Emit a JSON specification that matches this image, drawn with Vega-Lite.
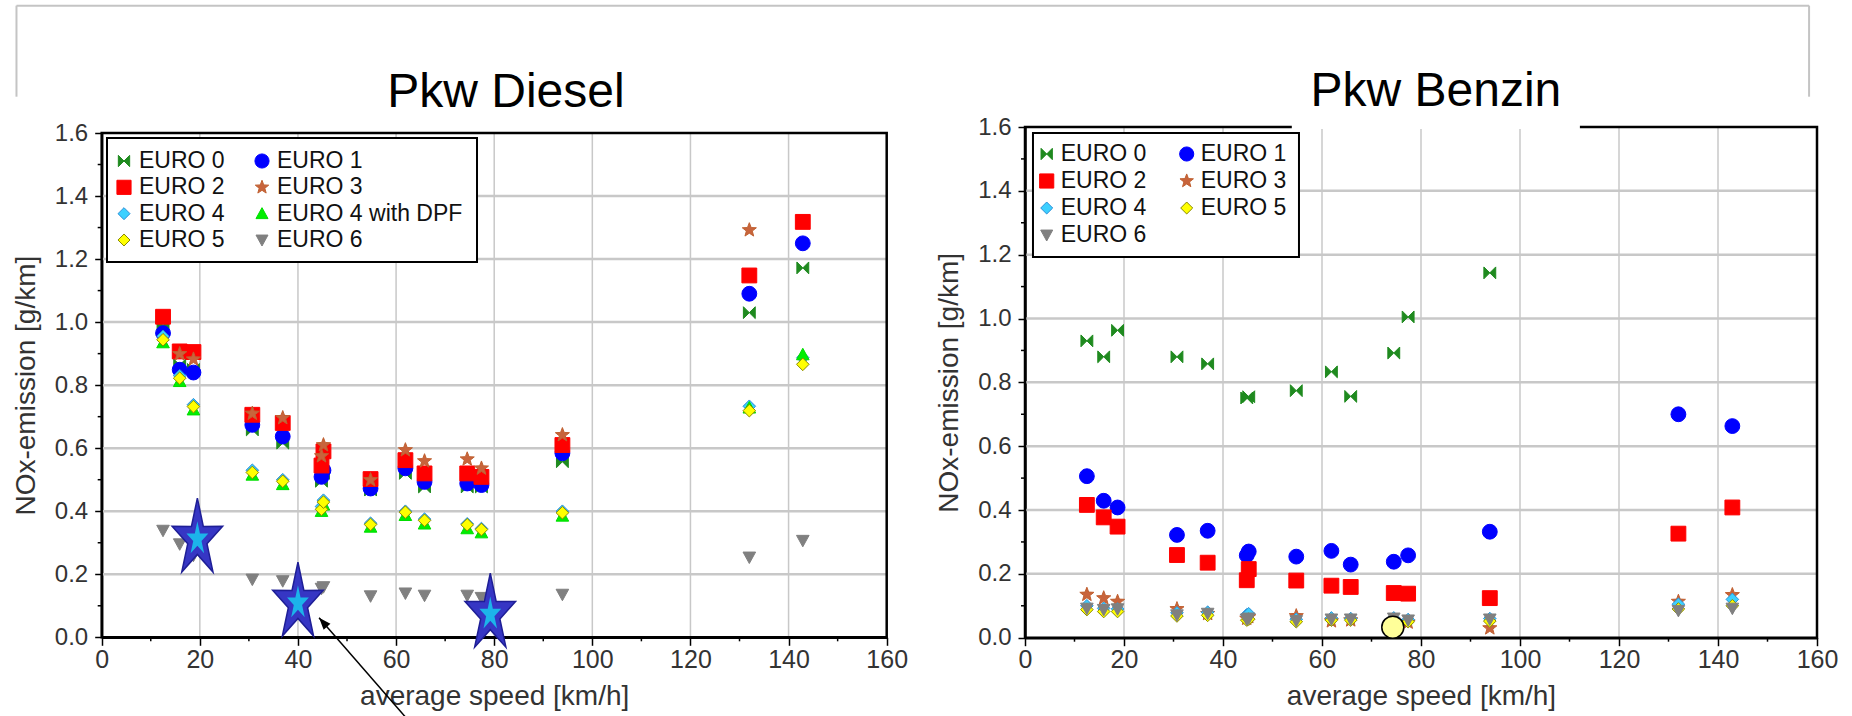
{
"$schema": "https://vega.github.io/schema/vega-lite/v6.json",
"width": 1852,
"height": 716,
"autosize": {"type": "none"},
"padding": 0,
"background": "white",
"config": {
  "font": "Liberation Sans",
  "view": {"stroke": null},
  "axis": {"labelFont": "Liberation Sans", "labelColor": "#333333", "titleFont": "Liberation Sans", "titleFontWeight": "normal", "titleColor": "#333333", "titleFontSize": 28, "tickColor": "black", "tickWidth": 1.5, "domainColor": "black", "domainWidth": 2.5, "labelFlush": false, "labelOverlap": false, "grid": false}
},
"resolve": {"scale": {"x": "independent", "y": "independent", "shape": "independent", "fill": "independent", "stroke": "independent"}, "axis": {"x": "independent", "y": "independent"}},
"layer": [
 {
  "resolve": {"scale": {"x": "independent", "y": "independent", "shape": "independent", "fill": "independent", "stroke": "independent"}, "axis": {"x": "independent", "y": "independent"}},
  "layer": [
   {
    "layer": [
     {"data": {"values": [{"speed":20},{"speed":40},{"speed":60},{"speed":80},{"speed":100},{"speed":120},{"speed":140}]},
      "mark": {"type": "rule", "color": "#c8c8c8", "strokeWidth": 1.5},
      "encoding": {"x": {"field": "speed", "type": "quantitative", "title": "average speed [km/h]"}, "y": {"datum": 0, "type": "quantitative", "title": "NOx-emission [g/km]"}, "y2": {"datum": 1.6}}},
     {"data": {"values": [{"nox":0.2},{"nox":0.4},{"nox":0.6},{"nox":0.8},{"nox":1.0},{"nox":1.2},{"nox":1.4}]},
      "mark": {"type": "rule", "color": "#c8c8c8", "strokeWidth": 2.5},
      "encoding": {"y": {"field": "nox", "type": "quantitative", "title": "NOx-emission [g/km]"}, "x": {"datum": 0, "type": "quantitative", "title": "average speed [km/h]"}, "x2": {"datum": 160}}},
     {"data": {"values": [{}]},
      "mark": {"type": "rule", "color": "#c4c4c4", "strokeWidth": 2},
      "encoding": {"x": {"datum": -17.37, "type": "quantitative", "title": "average speed [km/h]"}, "x2": {"datum": 348.0}, "y": {"datum": 2.0041, "type": "quantitative", "title": "NOx-emission [g/km]"}}},
     {"data": {"values": [{}]},
      "mark": {"type": "rule", "color": "#c4c4c4", "strokeWidth": 2},
      "encoding": {"x": {"datum": -17.37, "type": "quantitative", "title": "average speed [km/h]"}, "y": {"datum": 2.0041, "type": "quantitative", "title": "NOx-emission [g/km]"}, "y2": {"datum": 1.7152}}},
     {"data": {"values": [{}]},
      "mark": {"type": "rule", "color": "#c4c4c4", "strokeWidth": 2},
      "encoding": {"x": {"datum": 348.0, "type": "quantitative", "title": "average speed [km/h]"}, "y": {"datum": 2.0041, "type": "quantitative", "title": "NOx-emission [g/km]"}, "y2": {"datum": 1.7152}}},
     {"data": {"values": [{}]},
      "mark": {"type": "rect", "fillOpacity": 0, "stroke": "black", "strokeWidth": 2.5},
      "encoding": {"x": {"datum": 0, "type": "quantitative", "title": "average speed [km/h]"}, "x2": {"datum": 160}, "y": {"datum": 0, "type": "quantitative", "title": "NOx-emission [g/km]"}, "y2": {"datum": 1.6}}},
     {"data": {"values": [
        {"speed":12.5,"euro":"EURO 0","nox":0.99},{"speed":15.9,"euro":"EURO 0","nox":0.864},{"speed":18.7,"euro":"EURO 0","nox":0.85},{"speed":30.7,"euro":"EURO 0","nox":0.658},{"speed":36.9,"euro":"EURO 0","nox":0.616},{"speed":44.8,"euro":"EURO 0","nox":0.495},{"speed":45.2,"euro":"EURO 0","nox":0.52},{"speed":54.8,"euro":"EURO 0","nox":0.467},{"speed":61.9,"euro":"EURO 0","nox":0.52},{"speed":65.8,"euro":"EURO 0","nox":0.477},{"speed":74.5,"euro":"EURO 0","nox":0.477},{"speed":77.4,"euro":"EURO 0","nox":0.477},{"speed":93.9,"euro":"EURO 0","nox":0.557},{"speed":132.0,"euro":"EURO 0","nox":1.03},{"speed":142.9,"euro":"EURO 0","nox":1.172},
        {"speed":12.5,"euro":"EURO 1","nox":0.965},{"speed":15.9,"euro":"EURO 1","nox":0.849},{"speed":18.7,"euro":"EURO 1","nox":0.84},{"speed":30.7,"euro":"EURO 1","nox":0.674},{"speed":36.9,"euro":"EURO 1","nox":0.637},{"speed":44.8,"euro":"EURO 1","nox":0.509},{"speed":45.2,"euro":"EURO 1","nox":0.53},{"speed":54.8,"euro":"EURO 1","nox":0.472},{"speed":61.9,"euro":"EURO 1","nox":0.536},{"speed":65.8,"euro":"EURO 1","nox":0.493},{"speed":74.5,"euro":"EURO 1","nox":0.488},{"speed":77.4,"euro":"EURO 1","nox":0.483},{"speed":93.9,"euro":"EURO 1","nox":0.584},{"speed":132.0,"euro":"EURO 1","nox":1.09},{"speed":142.9,"euro":"EURO 1","nox":1.25},
        {"speed":12.5,"euro":"EURO 2","nox":1.017},{"speed":15.9,"euro":"EURO 2","nox":0.907},{"speed":18.7,"euro":"EURO 2","nox":0.905},{"speed":30.7,"euro":"EURO 2","nox":0.706},{"speed":36.9,"euro":"EURO 2","nox":0.68},{"speed":44.8,"euro":"EURO 2","nox":0.545},{"speed":45.2,"euro":"EURO 2","nox":0.59},{"speed":54.8,"euro":"EURO 2","nox":0.502},{"speed":61.9,"euro":"EURO 2","nox":0.562},{"speed":65.8,"euro":"EURO 2","nox":0.52},{"speed":74.5,"euro":"EURO 2","nox":0.52},{"speed":77.4,"euro":"EURO 2","nox":0.509},{"speed":93.9,"euro":"EURO 2","nox":0.61},{"speed":132.0,"euro":"EURO 2","nox":1.148},{"speed":142.9,"euro":"EURO 2","nox":1.318},
        {"speed":15.9,"euro":"EURO 3","nox":0.899},{"speed":18.7,"euro":"EURO 3","nox":0.882},{"speed":30.7,"euro":"EURO 3","nox":0.71},{"speed":36.9,"euro":"EURO 3","nox":0.696},{"speed":44.8,"euro":"EURO 3","nox":0.575},{"speed":45.2,"euro":"EURO 3","nox":0.61},{"speed":54.8,"euro":"EURO 3","nox":0.499},{"speed":61.9,"euro":"EURO 3","nox":0.594},{"speed":65.8,"euro":"EURO 3","nox":0.559},{"speed":74.5,"euro":"EURO 3","nox":0.565},{"speed":77.4,"euro":"EURO 3","nox":0.536},{"speed":93.9,"euro":"EURO 3","nox":0.642},{"speed":132.0,"euro":"EURO 3","nox":1.292},
        {"speed":12.5,"euro":"EURO 4","nox":0.955},{"speed":15.9,"euro":"EURO 4","nox":0.83},{"speed":18.7,"euro":"EURO 4","nox":0.738},{"speed":30.7,"euro":"EURO 4","nox":0.53},{"speed":36.9,"euro":"EURO 4","nox":0.5},{"speed":44.8,"euro":"EURO 4","nox":0.415},{"speed":45.2,"euro":"EURO 4","nox":0.435},{"speed":54.8,"euro":"EURO 4","nox":0.362},{"speed":61.9,"euro":"EURO 4","nox":0.4},{"speed":65.8,"euro":"EURO 4","nox":0.375},{"speed":74.5,"euro":"EURO 4","nox":0.36},{"speed":77.4,"euro":"EURO 4","nox":0.345},{"speed":93.9,"euro":"EURO 4","nox":0.4},{"speed":132.0,"euro":"EURO 4","nox":0.733},{"speed":142.9,"euro":"EURO 4","nox":0.887},
        {"speed":12.5,"euro":"EURO 4 with DPF","nox":0.935},{"speed":15.9,"euro":"EURO 4 with DPF","nox":0.812},{"speed":18.7,"euro":"EURO 4 with DPF","nox":0.722},{"speed":30.7,"euro":"EURO 4 with DPF","nox":0.515},{"speed":36.9,"euro":"EURO 4 with DPF","nox":0.485},{"speed":44.8,"euro":"EURO 4 with DPF","nox":0.4},{"speed":45.2,"euro":"EURO 4 with DPF","nox":0.42},{"speed":54.8,"euro":"EURO 4 with DPF","nox":0.35},{"speed":61.9,"euro":"EURO 4 with DPF","nox":0.387},{"speed":65.8,"euro":"EURO 4 with DPF","nox":0.36},{"speed":74.5,"euro":"EURO 4 with DPF","nox":0.345},{"speed":77.4,"euro":"EURO 4 with DPF","nox":0.332},{"speed":93.9,"euro":"EURO 4 with DPF","nox":0.385},{"speed":132.0,"euro":"EURO 4 with DPF","nox":0.728},{"speed":142.9,"euro":"EURO 4 with DPF","nox":0.897},
        {"speed":12.5,"euro":"EURO 5","nox":0.944},{"speed":15.9,"euro":"EURO 5","nox":0.822},{"speed":18.7,"euro":"EURO 5","nox":0.732},{"speed":30.7,"euro":"EURO 5","nox":0.523},{"speed":36.9,"euro":"EURO 5","nox":0.495},{"speed":44.8,"euro":"EURO 5","nox":0.406},{"speed":45.2,"euro":"EURO 5","nox":0.429},{"speed":54.8,"euro":"EURO 5","nox":0.358},{"speed":61.9,"euro":"EURO 5","nox":0.397},{"speed":65.8,"euro":"EURO 5","nox":0.371},{"speed":74.5,"euro":"EURO 5","nox":0.357},{"speed":77.4,"euro":"EURO 5","nox":0.342},{"speed":93.9,"euro":"EURO 5","nox":0.395},{"speed":132.0,"euro":"EURO 5","nox":0.719},{"speed":142.9,"euro":"EURO 5","nox":0.866},
        {"speed":12.5,"euro":"EURO 6","nox":0.339},{"speed":15.9,"euro":"EURO 6","nox":0.296},{"speed":18.7,"euro":"EURO 6","nox":0.26},{"speed":30.7,"euro":"EURO 6","nox":0.184},{"speed":36.9,"euro":"EURO 6","nox":0.179},{"speed":44.8,"euro":"EURO 6","nox":0.155},{"speed":45.2,"euro":"EURO 6","nox":0.16},{"speed":54.8,"euro":"EURO 6","nox":0.131},{"speed":61.9,"euro":"EURO 6","nox":0.14},{"speed":65.8,"euro":"EURO 6","nox":0.133},{"speed":74.5,"euro":"EURO 6","nox":0.133},{"speed":77.4,"euro":"EURO 6","nox":0.126},{"speed":93.9,"euro":"EURO 6","nox":0.136},{"speed":132.0,"euro":"EURO 6","nox":0.254},{"speed":142.9,"euro":"EURO 6","nox":0.307}
      ]},
      "mark": {"type": "point", "filled": true, "size": 220, "strokeWidth": 1, "opacity": 1},
      "encoding": {
        "x": {"field": "speed", "type": "quantitative", "title": "average speed [km/h]",
          "scale": {"domain": [0, 160], "range": [101.7, 886.7], "nice": false, "zero": false},
          "axis": {"orient": "bottom", "offset": -78.7, "values": [0,20,40,60,80,100,120,140,160], "format": "d", "grid": false, "tickSize": 8, "labelFontSize": 25, "labelPadding": 2, "titlePadding": 10}},
        "y": {"field": "nox", "type": "quantitative", "title": "NOx-emission [g/km]",
          "scale": {"domain": [0, 1.6], "range": [637.3, 133], "nice": false, "zero": false},
          "axis": {"orient": "left", "offset": -101.7, "values": [0,0.2,0.4,0.6,0.8,1.0,1.2,1.4,1.6], "format": ".1f", "grid": false, "tickSize": 7, "labelFontSize": 24, "labelPadding": 7, "titlePadding": 14}},
        "shape": {"field": "euro", "type": "nominal", "legend": null,
          "scale": {"domain": ["EURO 0","EURO 1","EURO 2","EURO 3","EURO 4","EURO 4 with DPF","EURO 5","EURO 6"],
            "range": ["M-0.8,-0.8L0,0L-0.8,0.8ZM0.8,-0.8L0,0L0.8,0.8Z","circle","square","M0,-1L0.247,-0.34L0.951,-0.309L0.399,0.13L0.588,0.809L0,0.42L-0.588,0.809L-0.399,0.13L-0.951,-0.309L-0.247,-0.34Z","M0,-0.85L0.85,0L0,0.85L-0.85,0Z","M0,-0.85L0.85,0.7L-0.85,0.7Z","M0,-0.85L0.85,0L0,0.85L-0.85,0Z","M0,0.85L0.85,-0.7L-0.85,-0.7Z"]}},
        "fill": {"field": "euro", "type": "nominal", "legend": null,
          "scale": {"domain": ["EURO 0","EURO 1","EURO 2","EURO 3","EURO 4","EURO 4 with DPF","EURO 5","EURO 6"],
            "range": ["#1f8a1f","#0000ff","#ff0000","#c8643c","#3cd0ff","#00ee00","#ffff00","#808080"]}},
        "stroke": {"field": "euro", "type": "nominal", "legend": null,
          "scale": {"domain": ["EURO 0","EURO 1","EURO 2","EURO 3","EURO 4","EURO 4 with DPF","EURO 5","EURO 6"],
            "range": ["#1f8a1f","#0000ff","#ff0000","#c06030","#2a8fd8","#00dd00","#8a8a00","#808080"]}}
      }},
     {"data": {"values": [{"speed":10},{"speed":30},{"speed":50},{"speed":70},{"speed":90},{"speed":110},{"speed":130},{"speed":150}]},
      "mark": {"type": "rule", "color": "black", "strokeWidth": 1.5},
      "encoding": {"x": {"field": "speed", "type": "quantitative", "title": "average speed [km/h]"}, "y": {"datum": 0, "type": "quantitative", "title": "NOx-emission [g/km]"}, "y2": {"datum": -0.0127}}},
     {"data": {"values": [{"nox":0.1},{"nox":0.3},{"nox":0.5},{"nox":0.7},{"nox":0.9},{"nox":1.1},{"nox":1.3},{"nox":1.5}]},
      "mark": {"type": "rule", "color": "black", "strokeWidth": 1.5},
      "encoding": {"y": {"field": "nox", "type": "quantitative", "title": "NOx-emission [g/km]"}, "x": {"datum": 0, "type": "quantitative", "title": "average speed [km/h]"}, "x2": {"datum": -0.815}}},
     {"data": {"values": [{"speed":19.5,"nox":0.312},{"speed":40.0,"nox":0.109},{"speed":79.2,"nox":0.0735}]},
      "mark": {"type": "point", "filled": true, "shape": "M0,-1L0.145,-0.307L0.618,-0.309L0.235,0.117L0.382,0.809L0,0.38L-0.382,0.809L-0.235,0.117L-0.618,-0.309L-0.145,-0.307Z", "size": 6690, "fill": "#3636c4", "stroke": "#1e1e96", "strokeWidth": 1.5, "opacity": 1},
      "encoding": {"x": {"field": "speed", "type": "quantitative", "title": "average speed [km/h]"}, "y": {"field": "nox", "type": "quantitative", "title": "NOx-emission [g/km]"}}},
     {"data": {"values": [{"speed":19.5,"nox":0.312},{"speed":40.0,"nox":0.109},{"speed":79.2,"nox":0.0735}]},
      "mark": {"type": "point", "filled": true, "shape": "M0,-1L0.145,-0.307L0.618,-0.309L0.235,0.117L0.382,0.809L0,0.38L-0.382,0.809L-0.235,0.117L-0.618,-0.309L-0.145,-0.307Z", "size": 1250, "fill": "#1cb4ea", "strokeWidth": 0, "opacity": 1},
      "encoding": {"x": {"field": "speed", "type": "quantitative", "title": "average speed [km/h]"}, "y": {"field": "nox", "type": "quantitative", "title": "NOx-emission [g/km]"}}},
     {"data": {"values": [{}]},
      "mark": {"type": "rule", "color": "black", "strokeWidth": 1.5},
      "encoding": {"x": {"datum": 62.3, "type": "quantitative", "title": "average speed [km/h]"}, "y": {"datum": -0.26, "type": "quantitative", "title": "NOx-emission [g/km]"}, "x2": {"datum": 44.3}, "y2": {"datum": 0.062}}},
     {"data": {"values": [{}]},
      "mark": {"type": "point", "filled": true, "shape": "M0,0L0.38,1L-0.38,1Z", "size": 576, "angle": 318.2, "fill": "black", "strokeWidth": 0, "opacity": 1},
      "encoding": {"x": {"datum": 44.3, "type": "quantitative", "title": "average speed [km/h]"}, "y": {"datum": 0.062, "type": "quantitative", "title": "NOx-emission [g/km]"}}},
     {"data": {"values": [{}]},
      "mark": {"type": "text", "text": "Pkw Diesel", "font": "Liberation Sans", "fontSize": 48, "align": "center", "baseline": "alphabetic", "color": "black"},
      "encoding": {"x": {"datum": 82.4, "type": "quantitative", "title": "average speed [km/h]"}, "y": {"datum": 1.683, "type": "quantitative", "title": "NOx-emission [g/km]"}}}
    ]
   },
   {
    "layer": [
     {"data": {"values": [{}]},
      "mark": {"type": "rect", "fill": "white", "stroke": "black", "strokeWidth": 2},
      "encoding": {"x": {"datum": -0.1232, "type": "quantitative", "axis": null, "scale": {"domain": [0, 1], "range": [124, 262]}}, "x2": {"datum": 2.558}, "y": {"datum": -0.873, "type": "quantitative", "axis": null, "scale": {"domain": [0, 3], "range": [161, 240]}}, "y2": {"datum": 3.835}}},
     {"data": {"values": [{"euro":"EURO 0","col":0,"row":0},{"euro":"EURO 1","col":1,"row":0},{"euro":"EURO 2","col":0,"row":1},{"euro":"EURO 3","col":1,"row":1},{"euro":"EURO 4","col":0,"row":2},{"euro":"EURO 4 with DPF","col":1,"row":2},{"euro":"EURO 5","col":0,"row":3},{"euro":"EURO 6","col":1,"row":3}]},
      "mark": {"type": "point", "filled": true, "size": 200, "strokeWidth": 1, "opacity": 1},
      "encoding": {
        "x": {"field": "col", "type": "quantitative", "axis": null, "scale": {"domain": [0, 1], "range": [124, 262]}},
        "y": {"field": "row", "type": "quantitative", "axis": null, "scale": {"domain": [0, 3], "range": [161, 240]}},
        "shape": {"field": "euro", "type": "nominal", "legend": null,
          "scale": {"domain": ["EURO 0","EURO 1","EURO 2","EURO 3","EURO 4","EURO 4 with DPF","EURO 5","EURO 6"],
            "range": ["M-0.8,-0.8L0,0L-0.8,0.8ZM0.8,-0.8L0,0L0.8,0.8Z","circle","square","M0,-1L0.247,-0.34L0.951,-0.309L0.399,0.13L0.588,0.809L0,0.42L-0.588,0.809L-0.399,0.13L-0.951,-0.309L-0.247,-0.34Z","M0,-0.85L0.85,0L0,0.85L-0.85,0Z","M0,-0.85L0.85,0.7L-0.85,0.7Z","M0,-0.85L0.85,0L0,0.85L-0.85,0Z","M0,0.85L0.85,-0.7L-0.85,-0.7Z"]}},
        "fill": {"field": "euro", "type": "nominal", "legend": null,
          "scale": {"domain": ["EURO 0","EURO 1","EURO 2","EURO 3","EURO 4","EURO 4 with DPF","EURO 5","EURO 6"],
            "range": ["#1f8a1f","#0000ff","#ff0000","#c8643c","#3cd0ff","#00ee00","#ffff00","#808080"]}},
        "stroke": {"field": "euro", "type": "nominal", "legend": null,
          "scale": {"domain": ["EURO 0","EURO 1","EURO 2","EURO 3","EURO 4","EURO 4 with DPF","EURO 5","EURO 6"],
            "range": ["#1f8a1f","#0000ff","#ff0000","#c06030","#2a8fd8","#00dd00","#8a8a00","#808080"]}}
      }},
     {"data": {"values": [{"euro":"EURO 0","col":0,"row":0},{"euro":"EURO 1","col":1,"row":0},{"euro":"EURO 2","col":0,"row":1},{"euro":"EURO 3","col":1,"row":1},{"euro":"EURO 4","col":0,"row":2},{"euro":"EURO 4 with DPF","col":1,"row":2},{"euro":"EURO 5","col":0,"row":3},{"euro":"EURO 6","col":1,"row":3}]},
      "mark": {"type": "text", "font": "Liberation Sans", "fontSize": 23, "align": "left", "baseline": "middle", "dx": 15, "color": "#111111"},
      "encoding": {
        "x": {"field": "col", "type": "quantitative", "axis": null, "scale": {"domain": [0, 1], "range": [124, 262]}},
        "y": {"field": "row", "type": "quantitative", "axis": null, "scale": {"domain": [0, 3], "range": [161, 240]}},
        "text": {"field": "euro", "type": "nominal"}
      }}
    ]
   }
  ]
 },
 {
  "resolve": {"scale": {"x": "independent", "y": "independent", "shape": "independent", "fill": "independent", "stroke": "independent"}, "axis": {"x": "independent", "y": "independent"}},
  "layer": [
   {
    "layer": [
     {"data": {"values": [{"speed":20},{"speed":40},{"speed":60},{"speed":80},{"speed":100},{"speed":120},{"speed":140}]},
      "mark": {"type": "rule", "color": "#c8c8c8", "strokeWidth": 1.5},
      "encoding": {"x": {"field": "speed", "type": "quantitative", "title": "average speed [km/h]"}, "y": {"datum": 0, "type": "quantitative", "title": "NOx-emission [g/km]"}, "y2": {"datum": 1.6}}},
     {"data": {"values": [{"nox":0.2},{"nox":0.4},{"nox":0.6},{"nox":0.8},{"nox":1.0},{"nox":1.2},{"nox":1.4}]},
      "mark": {"type": "rule", "color": "#c8c8c8", "strokeWidth": 2.5},
      "encoding": {"y": {"field": "nox", "type": "quantitative", "title": "NOx-emission [g/km]"}, "x": {"datum": 0, "type": "quantitative", "title": "average speed [km/h]"}, "x2": {"datum": 160}}},
     {"data": {"values": [{}]},
      "mark": {"type": "rect", "fillOpacity": 0, "stroke": "black", "strokeWidth": 2.5},
      "encoding": {"x": {"datum": 0, "type": "quantitative", "title": "average speed [km/h]"}, "x2": {"datum": 160}, "y": {"datum": 0, "type": "quantitative", "title": "NOx-emission [g/km]"}, "y2": {"datum": 1.6}}},
     {"data": {"values": [{}]},
      "mark": {"type": "rule", "color": "white", "strokeWidth": 4},
      "encoding": {"x": {"datum": 53.9, "type": "quantitative", "title": "average speed [km/h]"}, "x2": {"datum": 112.1}, "y": {"datum": 1.6, "type": "quantitative", "title": "NOx-emission [g/km]"}}},
     {"data": {"values": [
        {"speed":12.5,"euro":"EURO 0","nox":0.93},{"speed":15.9,"euro":"EURO 0","nox":0.88},{"speed":18.7,"euro":"EURO 0","nox":0.963},{"speed":30.7,"euro":"EURO 0","nox":0.88},{"speed":36.9,"euro":"EURO 0","nox":0.858},{"speed":44.8,"euro":"EURO 0","nox":0.751},{"speed":45.2,"euro":"EURO 0","nox":0.755},{"speed":54.8,"euro":"EURO 0","nox":0.774},{"speed":61.9,"euro":"EURO 0","nox":0.833},{"speed":65.8,"euro":"EURO 0","nox":0.756},{"speed":74.5,"euro":"EURO 0","nox":0.892},{"speed":77.4,"euro":"EURO 0","nox":1.005},{"speed":93.9,"euro":"EURO 0","nox":1.143},
        {"speed":12.5,"euro":"EURO 1","nox":0.506},{"speed":15.9,"euro":"EURO 1","nox":0.429},{"speed":18.7,"euro":"EURO 1","nox":0.408},{"speed":30.7,"euro":"EURO 1","nox":0.322},{"speed":36.9,"euro":"EURO 1","nox":0.335},{"speed":44.8,"euro":"EURO 1","nox":0.258},{"speed":45.2,"euro":"EURO 1","nox":0.27},{"speed":54.8,"euro":"EURO 1","nox":0.254},{"speed":61.9,"euro":"EURO 1","nox":0.272},{"speed":65.8,"euro":"EURO 1","nox":0.229},{"speed":74.5,"euro":"EURO 1","nox":0.238},{"speed":77.4,"euro":"EURO 1","nox":0.258},{"speed":93.9,"euro":"EURO 1","nox":0.332},{"speed":132.0,"euro":"EURO 1","nox":0.7},{"speed":142.9,"euro":"EURO 1","nox":0.663},
        {"speed":12.5,"euro":"EURO 2","nox":0.416},{"speed":15.9,"euro":"EURO 2","nox":0.377},{"speed":18.7,"euro":"EURO 2","nox":0.348},{"speed":30.7,"euro":"EURO 2","nox":0.259},{"speed":36.9,"euro":"EURO 2","nox":0.235},{"speed":44.8,"euro":"EURO 2","nox":0.18},{"speed":45.2,"euro":"EURO 2","nox":0.215},{"speed":54.8,"euro":"EURO 2","nox":0.179},{"speed":61.9,"euro":"EURO 2","nox":0.163},{"speed":65.8,"euro":"EURO 2","nox":0.159},{"speed":74.5,"euro":"EURO 2","nox":0.14},{"speed":77.4,"euro":"EURO 2","nox":0.138},{"speed":93.9,"euro":"EURO 2","nox":0.124},{"speed":132.0,"euro":"EURO 2","nox":0.326},{"speed":142.9,"euro":"EURO 2","nox":0.408},
        {"speed":12.5,"euro":"EURO 3","nox":0.135},{"speed":15.9,"euro":"EURO 3","nox":0.124},{"speed":18.7,"euro":"EURO 3","nox":0.113},{"speed":30.7,"euro":"EURO 3","nox":0.09},{"speed":36.9,"euro":"EURO 3","nox":0.075},{"speed":44.8,"euro":"EURO 3","nox":0.06},{"speed":45.2,"euro":"EURO 3","nox":0.065},{"speed":54.8,"euro":"EURO 3","nox":0.068},{"speed":61.9,"euro":"EURO 3","nox":0.052},{"speed":65.8,"euro":"EURO 3","nox":0.055},{"speed":74.5,"euro":"EURO 3","nox":0.05},{"speed":77.4,"euro":"EURO 3","nox":0.048},{"speed":93.9,"euro":"EURO 3","nox":0.03},{"speed":132.0,"euro":"EURO 3","nox":0.113},{"speed":142.9,"euro":"EURO 3","nox":0.134},
        {"speed":12.5,"euro":"EURO 4","nox":0.1},{"speed":15.9,"euro":"EURO 4","nox":0.092},{"speed":18.7,"euro":"EURO 4","nox":0.09},{"speed":30.7,"euro":"EURO 4","nox":0.078},{"speed":36.9,"euro":"EURO 4","nox":0.08},{"speed":44.8,"euro":"EURO 4","nox":0.072},{"speed":45.2,"euro":"EURO 4","nox":0.075},{"speed":54.8,"euro":"EURO 4","nox":0.058},{"speed":61.9,"euro":"EURO 4","nox":0.062},{"speed":65.8,"euro":"EURO 4","nox":0.06},{"speed":74.5,"euro":"EURO 4","nox":0.062},{"speed":77.4,"euro":"EURO 4","nox":0.057},{"speed":93.9,"euro":"EURO 4","nox":0.06},{"speed":132.0,"euro":"EURO 4","nox":0.105},{"speed":142.9,"euro":"EURO 4","nox":0.12},
        {"speed":12.5,"euro":"EURO 5","nox":0.088},{"speed":15.9,"euro":"EURO 5","nox":0.082},{"speed":18.7,"euro":"EURO 5","nox":0.082},{"speed":30.7,"euro":"EURO 5","nox":0.068},{"speed":36.9,"euro":"EURO 5","nox":0.07},{"speed":44.8,"euro":"EURO 5","nox":0.055},{"speed":45.2,"euro":"EURO 5","nox":0.058},{"speed":54.8,"euro":"EURO 5","nox":0.05},{"speed":61.9,"euro":"EURO 5","nox":0.055},{"speed":65.8,"euro":"EURO 5","nox":0.055},{"speed":74.5,"euro":"EURO 5","nox":0.055},{"speed":77.4,"euro":"EURO 5","nox":0.05},{"speed":93.9,"euro":"EURO 5","nox":0.052},{"speed":132.0,"euro":"EURO 5","nox":0.09},{"speed":142.9,"euro":"EURO 5","nox":0.1},
        {"speed":12.5,"euro":"EURO 6","nox":0.092},{"speed":15.9,"euro":"EURO 6","nox":0.088},{"speed":18.7,"euro":"EURO 6","nox":0.09},{"speed":30.7,"euro":"EURO 6","nox":0.071},{"speed":36.9,"euro":"EURO 6","nox":0.076},{"speed":44.8,"euro":"EURO 6","nox":0.058},{"speed":45.2,"euro":"EURO 6","nox":0.061},{"speed":54.8,"euro":"EURO 6","nox":0.053},{"speed":61.9,"euro":"EURO 6","nox":0.058},{"speed":65.8,"euro":"EURO 6","nox":0.058},{"speed":74.5,"euro":"EURO 6","nox":0.061},{"speed":77.4,"euro":"EURO 6","nox":0.055},{"speed":93.9,"euro":"EURO 6","nox":0.058},{"speed":132.0,"euro":"EURO 6","nox":0.085},{"speed":142.9,"euro":"EURO 6","nox":0.092}
      ]},
      "mark": {"type": "point", "filled": true, "size": 220, "strokeWidth": 1, "opacity": 1},
      "encoding": {
        "x": {"field": "speed", "type": "quantitative", "title": "average speed [km/h]",
          "scale": {"domain": [0, 160], "range": [1025, 1817], "nice": false, "zero": false},
          "axis": {"orient": "bottom", "offset": -78.3, "values": [0,20,40,60,80,100,120,140,160], "format": "d", "grid": false, "tickSize": 8, "labelFontSize": 25, "labelPadding": 2, "titlePadding": 10}},
        "y": {"field": "nox", "type": "quantitative", "title": "NOx-emission [g/km]",
          "scale": {"domain": [0, 1.6], "range": [637.7, 127], "nice": false, "zero": false},
          "axis": {"orient": "left", "offset": -1025, "values": [0,0.2,0.4,0.6,0.8,1.0,1.2,1.4,1.6], "format": ".1f", "grid": false, "tickSize": 7, "labelFontSize": 24, "labelPadding": 7, "titlePadding": 14}},
        "shape": {"field": "euro", "type": "nominal", "legend": null,
          "scale": {"domain": ["EURO 0","EURO 1","EURO 2","EURO 3","EURO 4","EURO 5","EURO 6"],
            "range": ["M-0.8,-0.8L0,0L-0.8,0.8ZM0.8,-0.8L0,0L0.8,0.8Z","circle","square","M0,-1L0.247,-0.34L0.951,-0.309L0.399,0.13L0.588,0.809L0,0.42L-0.588,0.809L-0.399,0.13L-0.951,-0.309L-0.247,-0.34Z","M0,-0.85L0.85,0L0,0.85L-0.85,0Z","M0,-0.85L0.85,0L0,0.85L-0.85,0Z","M0,0.85L0.85,-0.7L-0.85,-0.7Z"]}},
        "fill": {"field": "euro", "type": "nominal", "legend": null,
          "scale": {"domain": ["EURO 0","EURO 1","EURO 2","EURO 3","EURO 4","EURO 5","EURO 6"],
            "range": ["#1f8a1f","#0000ff","#ff0000","#c8643c","#3cd0ff","#ffff00","#808080"]}},
        "stroke": {"field": "euro", "type": "nominal", "legend": null,
          "scale": {"domain": ["EURO 0","EURO 1","EURO 2","EURO 3","EURO 4","EURO 5","EURO 6"],
            "range": ["#1f8a1f","#0000ff","#ff0000","#c06030","#2a8fd8","#8a8a00","#808080"]}}
      }},
     {"data": {"values": [{"speed":10},{"speed":30},{"speed":50},{"speed":70},{"speed":90},{"speed":110},{"speed":130},{"speed":150}]},
      "mark": {"type": "rule", "color": "black", "strokeWidth": 1.5},
      "encoding": {"x": {"field": "speed", "type": "quantitative", "title": "average speed [km/h]"}, "y": {"datum": 0, "type": "quantitative", "title": "NOx-emission [g/km]"}, "y2": {"datum": -0.01255}}},
     {"data": {"values": [{"nox":0.1},{"nox":0.3},{"nox":0.5},{"nox":0.7},{"nox":0.9},{"nox":1.1},{"nox":1.3},{"nox":1.5}]},
      "mark": {"type": "rule", "color": "black", "strokeWidth": 1.5},
      "encoding": {"y": {"field": "nox", "type": "quantitative", "title": "NOx-emission [g/km]"}, "x": {"datum": 0, "type": "quantitative", "title": "average speed [km/h]"}, "x2": {"datum": -0.808}}},
     {"data": {"values": [{}]},
      "mark": {"type": "point", "filled": true, "shape": "circle", "size": 484, "fill": "#ffff99", "stroke": "black", "strokeWidth": 1.5, "opacity": 1},
      "encoding": {"x": {"datum": 74.3, "type": "quantitative", "title": "average speed [km/h]"}, "y": {"datum": 0.033, "type": "quantitative", "title": "NOx-emission [g/km]"}}},
     {"data": {"values": [{}]},
      "mark": {"type": "text", "text": "Pkw Benzin", "font": "Liberation Sans", "fontSize": 48, "align": "center", "baseline": "alphabetic", "color": "black"},
      "encoding": {"x": {"datum": 83.0, "type": "quantitative", "title": "average speed [km/h]"}, "y": {"datum": 1.665, "type": "quantitative", "title": "NOx-emission [g/km]"}}}
    ]
   },
   {
    "layer": [
     {"data": {"values": [{}]},
      "mark": {"type": "rect", "fill": "white", "stroke": "black", "strokeWidth": 2},
      "encoding": {"x": {"datum": -0.098, "type": "quantitative", "axis": null, "scale": {"domain": [0, 1], "range": [1046.7, 1186.7]}}, "x2": {"datum": 1.802}, "y": {"datum": -0.778, "type": "quantitative", "axis": null, "scale": {"domain": [0, 3], "range": [154, 235]}}, "y2": {"datum": 3.815}}},
     {"data": {"values": [{"euro":"EURO 0","col":0,"row":0},{"euro":"EURO 1","col":1,"row":0},{"euro":"EURO 2","col":0,"row":1},{"euro":"EURO 3","col":1,"row":1},{"euro":"EURO 4","col":0,"row":2},{"euro":"EURO 5","col":1,"row":2},{"euro":"EURO 6","col":0,"row":3}]},
      "mark": {"type": "point", "filled": true, "size": 200, "strokeWidth": 1, "opacity": 1},
      "encoding": {
        "x": {"field": "col", "type": "quantitative", "axis": null, "scale": {"domain": [0, 1], "range": [1046.7, 1186.7]}},
        "y": {"field": "row", "type": "quantitative", "axis": null, "scale": {"domain": [0, 3], "range": [154, 235]}},
        "shape": {"field": "euro", "type": "nominal", "legend": null,
          "scale": {"domain": ["EURO 0","EURO 1","EURO 2","EURO 3","EURO 4","EURO 5","EURO 6"],
            "range": ["M-0.8,-0.8L0,0L-0.8,0.8ZM0.8,-0.8L0,0L0.8,0.8Z","circle","square","M0,-1L0.247,-0.34L0.951,-0.309L0.399,0.13L0.588,0.809L0,0.42L-0.588,0.809L-0.399,0.13L-0.951,-0.309L-0.247,-0.34Z","M0,-0.85L0.85,0L0,0.85L-0.85,0Z","M0,-0.85L0.85,0L0,0.85L-0.85,0Z","M0,0.85L0.85,-0.7L-0.85,-0.7Z"]}},
        "fill": {"field": "euro", "type": "nominal", "legend": null,
          "scale": {"domain": ["EURO 0","EURO 1","EURO 2","EURO 3","EURO 4","EURO 5","EURO 6"],
            "range": ["#1f8a1f","#0000ff","#ff0000","#c8643c","#3cd0ff","#ffff00","#808080"]}},
        "stroke": {"field": "euro", "type": "nominal", "legend": null,
          "scale": {"domain": ["EURO 0","EURO 1","EURO 2","EURO 3","EURO 4","EURO 5","EURO 6"],
            "range": ["#1f8a1f","#0000ff","#ff0000","#c06030","#2a8fd8","#8a8a00","#808080"]}}
      }},
     {"data": {"values": [{"euro":"EURO 0","col":0,"row":0},{"euro":"EURO 1","col":1,"row":0},{"euro":"EURO 2","col":0,"row":1},{"euro":"EURO 3","col":1,"row":1},{"euro":"EURO 4","col":0,"row":2},{"euro":"EURO 5","col":1,"row":2},{"euro":"EURO 6","col":0,"row":3}]},
      "mark": {"type": "text", "font": "Liberation Sans", "fontSize": 23, "align": "left", "baseline": "middle", "dx": 14, "color": "#111111"},
      "encoding": {
        "x": {"field": "col", "type": "quantitative", "axis": null, "scale": {"domain": [0, 1], "range": [1046.7, 1186.7]}},
        "y": {"field": "row", "type": "quantitative", "axis": null, "scale": {"domain": [0, 3], "range": [154, 235]}},
        "text": {"field": "euro", "type": "nominal"}
      }}
    ]
   }
  ]
 }
]
}
